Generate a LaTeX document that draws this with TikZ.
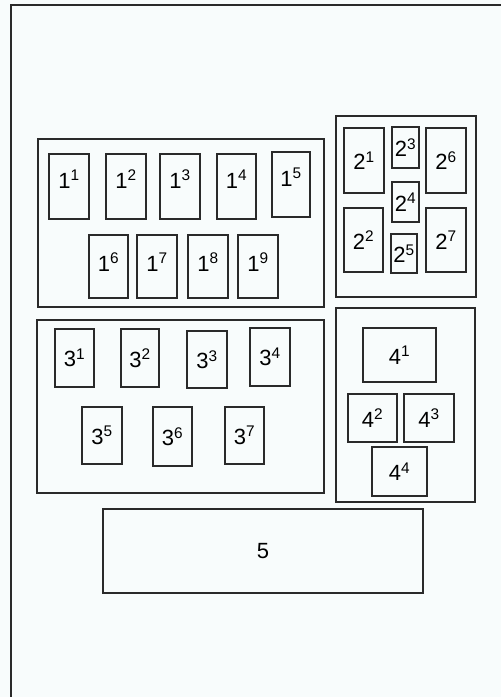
\documentclass[tikz,border=0pt]{standalone}
\usepackage{fontspec}
\setmainfont{Liberation Sans}
\definecolor{paper}{HTML}{F8FCFC}
\definecolor{ink}{HTML}{2A2A2A}
\begin{document}
\begin{tikzpicture} [x = 1pt, y = -1pt, font = \fontsize{22}{26}\selectfont,
	frame/.style = {draw = ink, line width = 1.2pt},
	fuse/.style 2 args = {draw = ink, line width = 1.2pt, inner sep = 0pt, minimum width = #1, minimum height = #2},
	lift/.style = {text depth = #1}]
	\useasboundingbox (0,0) rectangle (501,697);
	\fill [paper] (0,0) rectangle (501,697);
	\draw [ink, line width = 2pt] (11,697) -- (11,5) -- (501,5);

	\draw [frame] (38,139) rectangle (324,307);
	\node [fuse = {40pt}{65pt}, lift = 14.7pt] (f11) at (69,186.5) {1\textsuperscript{1}};
	\node [fuse = {40pt}{65pt}, lift = 14.7pt] (f12) at (126,186.5) {1\textsuperscript{2}};
	\node [fuse = {40pt}{65pt}, lift = 14.7pt] (f13) at (180,186.5) {1\textsuperscript{3}};
	\node [fuse = {39pt}{65pt}, lift = 14.7pt] (f14) at (236.5,186.5) {1\textsuperscript{4}};
	\node [fuse = {38pt}{65pt}, lift = 14.7pt] (f15) at (291,184.5) {1\textsuperscript{5}};
	\node [fuse = {39pt}{63pt}, lift = 8.7pt] (f16) at (108.5,266.5) {1\textsuperscript{6}};
	\node [fuse = {40pt}{63pt}, lift = 8.7pt] (f17) at (157,266.5) {1\textsuperscript{7}};
	\node [fuse = {40pt}{63pt}, lift = 8.7pt] (f18) at (208,266.5) {1\textsuperscript{8}};
	\node [fuse = {40pt}{63pt}, lift = 8.7pt] (f19) at (258,266.5) {1\textsuperscript{9}};

	\draw [frame] (336,116) rectangle (476,297);
	\node [fuse = {40pt}{65pt}] (f21) at (364,160.5) {2\textsuperscript{1}};
	\node [fuse = {39pt}{64pt}] (f22) at (363.5,240) {2\textsuperscript{2}};
	\node [fuse = {27pt}{41pt}] (f23) at (405.5,147.5) {2\textsuperscript{3}};
	\node [fuse = {27pt}{40pt}] (f24) at (405.5,202) {2\textsuperscript{4}};
	\node [fuse = {26pt}{39pt}] (f25) at (404,253.5) {2\textsuperscript{5}};
	\node [fuse = {40pt}{65pt}] (f26) at (446,160.5) {2\textsuperscript{6}};
	\node [fuse = {40pt}{64pt}] (f27) at (446,240) {2\textsuperscript{7}};

	\draw [frame] (37,320) rectangle (324,493);
	\node [fuse = {39pt}{58pt}] (f31) at (74.5,358) {3\textsuperscript{1}};
	\node [fuse = {38pt}{58pt}] (f32) at (140,358) {3\textsuperscript{2}};
	\node [fuse = {40pt}{57pt}] (f33) at (207,359.5) {3\textsuperscript{3}};
	\node [fuse = {40pt}{58pt}] (f34) at (270,357) {3\textsuperscript{4}};
	\node [fuse = {40pt}{57pt}] (f35) at (102,435.5) {3\textsuperscript{5}};
	\node [fuse = {39pt}{59pt}] (f36) at (172.5,436.5) {3\textsuperscript{6}};
	\node [fuse = {39pt}{57pt}] (f37) at (244.5,435.5) {3\textsuperscript{7}};

	\draw [frame] (336,308) rectangle (475,502);
	\node [fuse = {73pt}{54pt}] (f41) at (399.5,355) {4\textsuperscript{1}};
	\node [fuse = {49pt}{48pt}] (f42) at (372.5,418) {4\textsuperscript{2}};
	\node [fuse = {50pt}{48pt}] (f43) at (429,418) {4\textsuperscript{3}};
	\node [fuse = {55pt}{49pt}] (f44) at (399.5,471.5) {4\textsuperscript{4}};

	\node [fuse = {320pt}{84pt}] (f5) at (263,551) {5};
\end{tikzpicture}
\end{document}
